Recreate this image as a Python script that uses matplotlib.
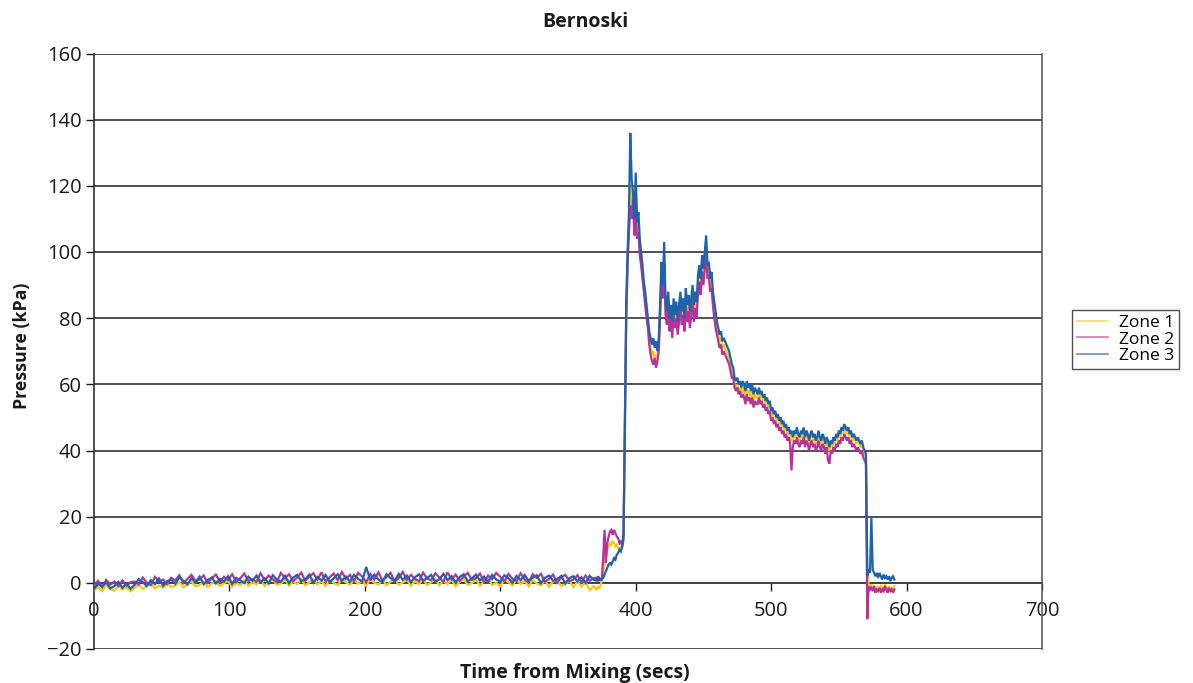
import numpy as np
import matplotlib
matplotlib.use("Agg")
import matplotlib.pyplot as plt
from matplotlib.lines import Line2D

plt.rcParams['font.family'] = ['Open Sans', 'DejaVu Sans']

# ---- data -------------------------------------------------------------
# Quiet period before the pressure build-up, sampled every 3 s (0..369 s)
FLAT_START, FLAT_STEP = 0, 3
# Active period, sampled every 1 s (370..591 s)
ACT_START, ACT_STEP = 370, 1

zone1_flat = [
    -2.3, -1.2, -2.5, -0.8, -1.9, -2.4, -0.9, -2.0, -1.4, -2.6,
    -1.6, -0.5, -1.9, -0.9, -0.3, -1.7, -0.8, -1.5, -0.2, -1.2,
    -0.9, 0.2, -1.4, -0.4, 0.4, -1.1, -0.6, 0.3, -1.3, -0.2,
    0.5, -1.0, -0.1, 0.6, -1.2, 0.0, -0.7, 0.7, -0.9, 0.2,
    -0.5, 0.8, -1.0, 0.3, 0.9, -0.6, -0.2, 1.0, -0.9, 0.4,
    -0.4, 1.0, -0.8, 0.1, 1.1, -0.5, 0.5, -1.0, 0.9, 0.0,
    -0.7, 1.2, 0.2, -0.6, 1.0, -0.3, 0.6, -0.9, 1.1, 0.0,
    -0.5, 1.0, -0.8, 0.4, 1.2, -0.6, 0.1, 1.0, -0.9, 0.5,
    -0.3, 1.1, -0.7, 0.2, 1.2, -0.8, 0.6, -0.4, 1.0, -1.0,
    0.3, 1.1, -0.6, -0.1, 1.0, -0.9, 0.5, 1.2, -0.7, 0.0,
    -1.0, 0.8, 0.2, -0.8, 1.0, -0.4, 0.6, -1.1, 0.9, -0.2,
    -0.8, 0.7, -1.2, 0.4, 0.8, -1.0, -0.3, 0.6, -1.3, 0.3,
    -1.1, 0.2, -2.2, -1.0,
]
zone2_flat = [
    -0.8, 0.6, -1.3, 0.9, -0.6, 0.4, -1.0, 0.7, -0.9, 0.2,
    0.4, -0.5, 1.6, 0.0, -0.7, 1.8, 0.3, 1.0, -0.4, 1.5,
    0.7, 2.3, -0.1, 1.2, 2.4, 0.5, 1.0, 2.2, 0.0, 1.4,
    2.5, 0.3, 1.8, 0.9, 2.6, 0.2, 1.4, 2.8, 0.5, 1.1,
    0.4, 2.9, 0.8, 2.2, 1.1, 0.2, 3.0, 1.4, 2.6, 0.5,
    1.6, 3.1, 0.6, 1.9, 2.9, 0.9, 3.2, 0.4, 1.7, 2.8,
    0.8, 3.3, 1.2, 2.4, 0.5, 3.0, 1.9, 0.2, 2.7, 1.0,
    3.2, 0.7, 1.8, 3.0, 0.4, 1.5, 3.3, 0.9, 2.4, 1.2,
    0.5, 3.1, 1.3, 0.8, 2.9, 1.6, 0.3, 3.2, 1.0, 2.5,
    0.6, 1.9, 3.0, 0.9, 1.4, 2.8, 0.2, 2.2, 1.1, 3.0,
    1.8, 0.4, 2.7, 1.2, 0.6, 2.9, 1.0, 0.2, 2.6, 1.5,
    2.7, 0.3, 1.2, 2.5, 0.0, 1.7, 2.4, 0.5, 1.0, 2.3,
    0.2, 2.2, 0.6, 1.4,
]
zone3_flat = [
    -1.9, -0.3, -1.2, 0.2, -1.7, -1.0, 0.3, -1.5, -0.2, -1.8,
    -0.6, 1.1, 0.2, -1.0, 0.8, -0.4, 1.3, -0.9, 0.5, 1.0,
    -0.3, 1.7, 0.6, -0.5, 1.4, 0.1, 1.9, -0.4, 0.9, 1.6,
    -0.2, 1.2, 0.4, 2.0, -0.3, 1.5, 0.8, -0.1, 1.9, 0.6,
    2.2, 0.1, 1.3, -0.2, 2.3, 1.0, 0.3, 2.1, -0.1, 1.6,
    2.4, 0.5, 1.1, 2.5, 0.0, 1.8, 0.7, 2.4, 0.2, 1.4,
    2.6, 0.6, 1.9, 0.3, 2.4, 1.2, 0.4, 4.8, 0.8, 2.5,
    1.0, 0.3, 2.6, 1.4, 0.5, 2.7, 0.9, 2.2, 0.2, 1.7,
    2.6, 0.6, 1.5, 2.4, 0.3, 1.1, 2.7, 0.8, 2.0, 0.1,
    1.8, 2.6, 0.4, 1.3, 2.5, 0.7, 1.9, 0.2, 2.4, 1.0,
    0.3, 2.3, 1.4, 0.0, 2.1, 0.8, 2.4, 0.5, 1.6, 2.3,
    -0.1, 1.5, 2.2, 0.6, 1.1, 2.1, -0.2, 1.4, 2.0, 0.4,
    1.7, 0.0, 2.1, 0.9,
]

zone1_active = [
    -1.5, -2.2, -1.0, -1.8, -0.8, 0.5, 3, 6, 8, 10,
    11, 12, 11.5, 12.5, 12, 11, 11.5, 10.5, 10, 11,
    10, 14, 48, 78, 98, 108, 120, 116, 114, 107,
    118, 106, 109, 101, 97, 93, 89, 86, 82, 78,
    74, 71, 69, 70, 68, 69, 68, 71, 82, 94,
    88, 99, 83, 80, 85, 78, 82, 77, 84, 79,
    82, 77, 81, 86, 80, 83, 78, 86, 81, 84,
    79, 83, 87, 81, 85, 82, 90, 93, 89, 96,
    92, 97, 101, 94, 95, 90, 91, 86, 82, 79,
    77, 75, 73, 74, 71, 72, 71, 70, 69, 68,
    66, 64, 63, 60, 59, 60, 58, 59, 57, 59,
    58, 56, 59, 57, 58, 56, 58, 55, 57, 56,
    56, 58, 56, 57, 55, 56, 54, 55, 53, 54,
    51, 52, 50, 51, 49, 50, 48, 49, 47, 48,
    46, 47, 45, 46, 44, 43, 43, 45, 44, 45,
    44, 43, 45, 44, 46, 43, 45, 44, 42, 44,
    45, 43, 44, 42, 43, 45, 43, 42, 44, 43,
    41, 43, 40, 40, 42, 41, 43, 42, 44, 43,
    45, 44, 46, 45, 47, 46, 45, 46, 44, 45,
    43, 44, 43, 42, 43, 42, 41, 42, 40, 39,
    38, 6, -1, -1.5, -0.5, -2, -1, -1.5, -2.5, -1,
    -2, -1, -1.5, -2, -0.5, -1.5, -2, -1, -2, -1.5,
    -2, -1,
]
zone2_active = [
    1.5, 0.5, 2.0, 0.8, 1.2, 1.0, 8, 16, 6, 12,
    14, 15.5, 16, 14.5, 16, 15, 14, 13.5, 12, 12.5,
    11, 13, 50, 80, 96, 106, 114, 110, 116, 105,
    112, 104, 106, 99, 96, 92, 88, 84, 80, 77,
    72, 69, 67, 66, 68, 65, 67, 70, 80, 92,
    86, 97, 81, 78, 83, 76, 80, 74, 82, 77,
    80, 75, 79, 84, 78, 81, 76, 84, 79, 82,
    77, 81, 86, 79, 83, 80, 88, 91, 87, 94,
    90, 95, 99, 92, 93, 88, 89, 84, 80, 77,
    75, 73, 71, 72, 69, 70, 69, 68, 67, 66,
    64, 62, 62, 59, 58, 59, 57, 58, 56, 57,
    56, 54, 57, 55, 56, 54, 56, 53, 55, 54,
    54, 56, 54, 55, 53, 54, 52, 53, 51, 52,
    49, 50, 48, 49, 47, 48, 46, 47, 45, 46,
    44, 45, 43, 44, 42, 34, 41, 43, 42, 44,
    42, 41, 43, 42, 44, 41, 43, 42, 40, 42,
    43, 41, 42, 40, 41, 43, 41, 40, 42, 41,
    39, 41, 37, 36, 40, 39, 41, 40, 42, 41,
    43, 42, 44, 43, 45, 44, 43, 44, 42, 43,
    41, 42, 41, 40, 41, 40, 39, 40, 38, 37,
    36, -11, -1, -2, -1.5, -2.5, -1, -3, -2, -2.5,
    -1.5, -3, -2, -2.5, -1, -2, -3, -1.5, -2.5, -2,
    -3, -2,
]
zone3_active = [
    0.8, 1.2, 0.5, 1.5, 0.9, 1.1, 1.5, 2.5, 3.5, 4.5,
    5.5, 6, 5.5, 6.5, 7.5, 7, 8.5, 9, 10, 9.5,
    11, 15, 45, 85, 100, 112, 136, 122, 118, 110,
    124, 109, 112, 104, 100, 96, 91, 88, 84, 80,
    76, 74, 72, 74, 71, 73, 70, 74, 84, 97,
    90, 103, 86, 82, 88, 80, 84, 79, 86, 81,
    85, 79, 84, 88, 82, 86, 80, 89, 84, 87,
    82, 86, 90, 84, 88, 85, 93, 96, 92, 99,
    95, 100, 105, 96, 97, 92, 94, 88, 85, 82,
    79, 77, 75, 76, 73, 74, 73, 72, 71, 70,
    68, 66, 65, 62, 61, 62, 60, 61, 59, 61,
    60, 58, 61, 59, 60, 58, 60, 57, 59, 58,
    57, 59, 57, 58, 56, 57, 55, 56, 54, 55,
    52, 53, 51, 52, 50, 51, 49, 50, 48, 49,
    47, 48, 46, 47, 45, 46, 44, 46, 45, 47,
    45, 44, 46, 45, 47, 44, 46, 45, 43, 45,
    46, 44, 45, 43, 44, 46, 44, 43, 45, 44,
    42, 44, 43, 41, 43, 42, 44, 43, 45, 44,
    46, 45, 47, 46, 48, 47, 46, 47, 45, 46,
    44, 45, 44, 43, 44, 43, 42, 43, 41, 40,
    39, 2, 4, 3, 20, 4, 3, 2, 3, 1.5,
    3, 2, 1, 2.5, 1.5, 2, 1, 2, 0.5, 1.5,
    2, 1,
]

zone_names = ["Zone 1", "Zone 2", "Zone 3"]
zone_colors = ["#f2cc14", "#b8329c", "#1f63ad"]
legend_colors = ["#f4dc5a", "#c97ab8", "#6f90c0"]

x_ticks = [0, 100, 200, 300, 400, 500, 600, 700]
y_ticks = [-20, 0, 20, 40, 60, 80, 100, 120, 140, 160]


def series(flat, active):
    t = np.concatenate([FLAT_START + FLAT_STEP * np.arange(len(flat)),
                        ACT_START + ACT_STEP * np.arange(len(active))])
    return t, np.concatenate([flat, active]).astype(float)


zones = [series(zone1_flat, zone1_active),
         series(zone2_flat, zone2_active),
         series(zone3_flat, zone3_active)]

# ---- figure -----------------------------------------------------------
W, H = 1193, 683
fig = plt.figure(figsize=(W / 100, H / 100), dpi=100)
ax = fig.add_axes([94 / W, (H - 649) / H, 948 / W, 595.5 / H])

for (t, v), c, name in zip(zones, zone_colors, zone_names):
    ax.plot(t, v, color=c, lw=1.6, zorder=3, label=name,
            solid_joinstyle="miter")

ax.set_xlim(0, 700)
ax.set_ylim(-20, 160)
ax.set_xticks(x_ticks)
ax.set_yticks(y_ticks)

ax.yaxis.grid(True, color="#505050", lw=1.4)
ax.set_axisbelow(True)

ax.spines["top"].set_visible(False)
ax.spines["bottom"].set_position(("data", 0))
ax.spines["bottom"].set_color("#404040")
ax.spines["left"].set_color("#303030")
ax.spines["right"].set_color("#606060")
for s in ("bottom", "left", "right"):
    ax.spines[s].set_linewidth(1.2)

ax.tick_params(axis="both", labelsize=14.5, colors="#1a1a1a",
               length=6, width=1.0, direction="out")
ax.tick_params(axis="x", pad=7)
ax.tick_params(axis="y", pad=3)

fig.text(585 / W, 1 - 22 / H, "Bernoski", fontsize=14, fontweight="bold",
         ha="center", va="center", color="#1a1a1a")
fig.text(22 / W, 1 - 346 / H, "Pressure (kPa)", fontsize=12.8,
         fontweight="bold", rotation=90, ha="center", va="center",
         color="#1a1a1a")
fig.text(575 / W, 1 - 673 / H, "Time from Mixing (secs)", fontsize=14,
         fontweight="bold", ha="center", va="center", color="#1a1a1a")

handles = [Line2D([], [], color=c, lw=1.2) for c in legend_colors]
leg = fig.legend(handles, zone_names, loc="upper left",
                 bbox_to_anchor=(1072 / W, 1 - 310 / H),
                 bbox_transform=fig.transFigure, fontsize=12.5,
                 frameon=True, fancybox=False, shadow=False,
                 borderpad=0.3, labelspacing=0.0, handlelength=1.8,
                 handletextpad=0.6, borderaxespad=0)
leg.get_frame().set_edgecolor("#202020")
leg.get_frame().set_linewidth(1.0)

fig.savefig("out.png", dpi=100)
